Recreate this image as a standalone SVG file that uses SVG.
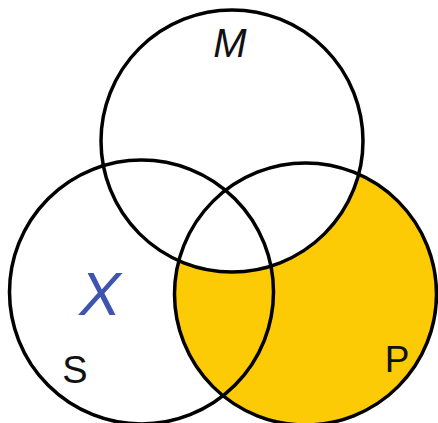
<svg xmlns="http://www.w3.org/2000/svg" width="438" height="423" viewBox="0 0 438 423">
<style>
.ring{fill:none;stroke:#000;stroke-width:3.5}
.lbl{font-family:"Liberation Sans",Arial,sans-serif;fill:#111;text-anchor:middle}
</style>
<defs>
<mask id="notM">
<rect width="438" height="423" fill="#fff"/>
<circle cx="232" cy="141" r="131" fill="#000"/>
</mask>
</defs>
<rect width="438" height="423" fill="#fff"/>
<circle cx="305.5" cy="294" r="131" fill="#FDCB06" mask="url(#notM)"/>
<g id="connectors"></g>
<g id="M"><circle class="ring" cx="232" cy="141" r="131"/><text class="lbl" x="230" y="57" font-size="40" font-style="italic">M</text></g>
<g id="S"><circle class="ring" cx="141.5" cy="292" r="132"/><text class="lbl" x="75" y="383" font-size="38">S</text></g>
<g id="P"><circle class="ring" cx="305.5" cy="294" r="131"/><text class="lbl" x="397" y="372" font-size="37">P</text></g>
<g id="X"><text class="lbl" x="100" y="315" font-size="62" font-style="italic" style="fill:#3D55B0">X</text></g>
</svg>
